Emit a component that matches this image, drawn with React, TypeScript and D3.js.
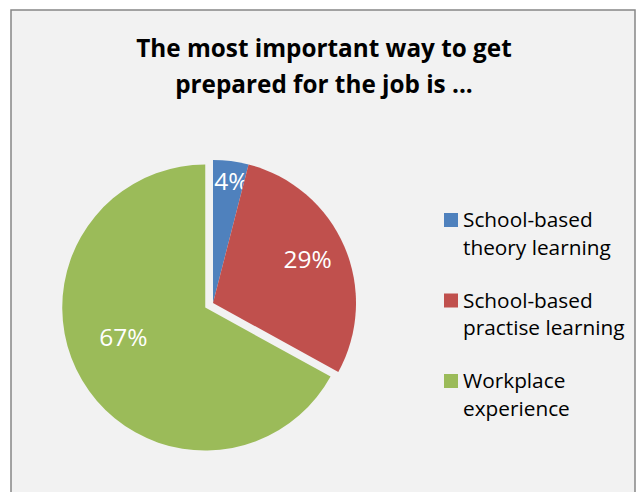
import React from "react";
import * as d3 from "d3";

const categories = ["School-based theory learning", "School-based practise learning", "Workplace experience"];
const legendLines = [["School-based", "theory learning"], ["School-based", "practise learning"], ["Workplace", "experience"]];
const values = [4, 29, 67];
const labels = ["4%", "29%", "67%"];
const colors = ["#4f81bd", "#c0504d", "#9bbb59"];
const explode = [0, 0, 9];
const labelRadius = [0.86, 0.73, 0.61];
const labelAngleShift = [1.4, -1.6, 10.6];
const titleLines = ["The most important way to get", "prepared for the job is ..."];

const W = 637;
const H = 492;

export default function App() {
  const cx = 213;
  const cy = 303;
  const r = 143;
  const pie = d3.pie<number>().sort(null).value((d) => d)(values);
  const arc = d3.arc<d3.PieArcDatum<number>>().innerRadius(0).outerRadius(r);
  const font = "'Open Sans', Lato, sans-serif";
  return (
    <svg width={W} height={H} style={{ position: "absolute", left: 0, top: 0 }}>
      <rect x={0} y={0} width={W} height={H} fill="#ffffff" />
      <rect x={11} y={10} width={624} height={H + 10} fill="#f2f2f2" stroke="#868686" strokeWidth={1.5} />
      <g fontFamily={font} fontWeight={700} fontSize={24.3} textAnchor="middle" fill="#000">
        {titleLines.map((t, i) => (
          <text key={i} x={324} y={57 + i * 35.5}>{t}</text>
        ))}
      </g>
      <g transform={`translate(${cx},${cy})`}>
        {pie.map((p, i) => {
          const mid = (p.startAngle + p.endAngle) / 2;
          const ox = explode[i] * Math.sin(mid);
          const oy = -explode[i] * Math.cos(mid);
          const la = mid + (labelAngleShift[i] * Math.PI) / 180;
          const lr = labelRadius[i] * r;
          return (
            <g key={i} transform={`translate(${ox},${oy})`}>
              <path d={arc(p) || ""} fill={colors[i]} />
              <text
                x={lr * Math.sin(la)}
                y={-lr * Math.cos(la)}
                dy="0.36em"
                textAnchor="middle"
                fontFamily={font}
                fontSize={24.5}
                fill="#ffffff"
              >
                {labels[i]}
              </text>
            </g>
          );
        })}
      </g>
      <g fontFamily={font} fontSize={20.8} fill="#000">
        {categories.map((c, i) => (
          <g key={c} transform={`translate(444,${213 + i * 80.5})`}>
            <rect x={0} y={0} width={14} height={14} fill={colors[i]} />
            {legendLines[i].map((l, j) => (
              <text key={j} x={19} y={14 + j * 27.5}>{l}</text>
            ))}
          </g>
        ))}
      </g>
    </svg>
  );
}
